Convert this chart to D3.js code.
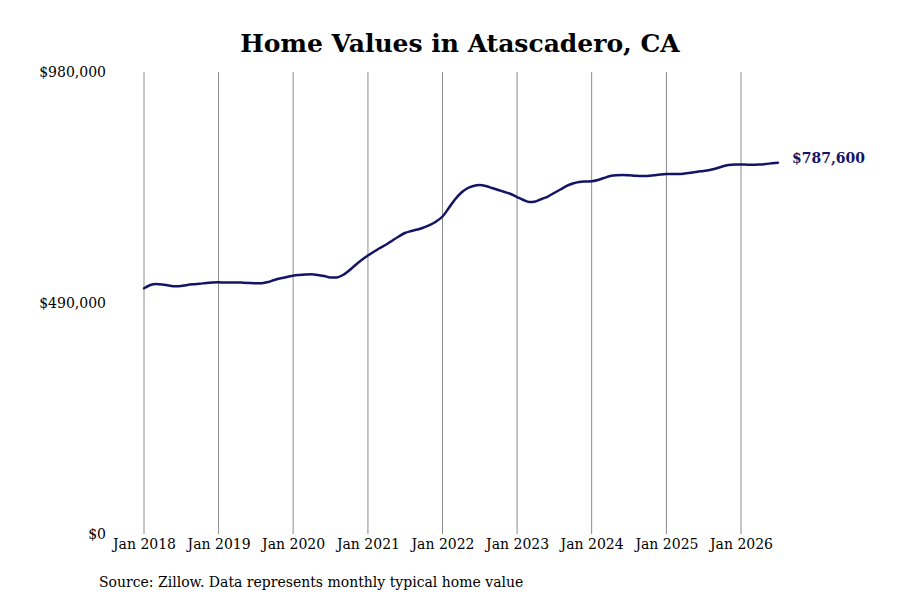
<!DOCTYPE html>
<html>
<head>
<meta charset="utf-8">
<script src="https://cdn.jsdelivr.net/npm/d3@7"></script>
<style>
  body { margin: 0; background: #fff; }
  svg { display: block; }
</style>
</head>
<body>
<svg id="chart" width="900" height="600"></svg>
<script>
// ---- data ----
const startMonth = "2018-01";
const homeValues = [
  521200, 528200, 530300, 529200, 527100, 525400, 526100, 528200, 529700, 530900, 532400, 533500,
  533900, 533500, 533500, 533700, 533100, 532400, 531800, 532000, 534500, 538800, 542400, 545100,
  547900, 549400, 550400, 551100, 549400, 547300, 544100, 544100, 549400, 558900, 570600, 581200,
  590800, 599200, 606700, 614100, 622600, 631100, 638500, 642700, 645900, 650200, 655500, 662900,
  673500, 691500, 708500, 723300, 732900, 738200, 740300, 738200, 733900, 729700, 725400, 721200,
  714800, 708500, 704200, 705300, 710600, 715900, 723300, 730800, 738200, 743500, 746700, 747700,
  748200, 750900, 755100, 759400, 761100, 761500, 760900, 760000, 759400, 759400, 760900, 762600,
  763600, 763600, 763600, 764700, 766200, 768500, 770000, 772100, 775300, 779500, 782700, 783800,
  783800, 783400, 783100, 783800, 784800, 786300, 787600
];
const xTickYears = [2018, 2019, 2020, 2021, 2022, 2023, 2024, 2025, 2026];
const yTickValues = [0, 490000, 980000];
const titleText = "Home Values in Atascadero, CA";
const sourceText = "Source: Zillow. Data represents monthly typical home value";

// ---- build ----
const parse = d3.timeParse("%Y-%m");
const start = parse(startMonth);
const series = homeValues.map((v, i) => ({ date: d3.timeMonth.offset(start, i), value: v }));

const svg = d3.select("#chart");
const serif = "'DejaVu Serif', serif";

const x = d3.scaleTime()
  .domain([new Date(2018, 0, 1), new Date(2026, 0, 1)])
  .range([144, 741]);
const y = d3.scaleLinear().domain([0, 980000]).range([534, 72]);

// title
svg.append("text")
  .attr("x", 460).attr("y", 52)
  .attr("text-anchor", "middle")
  .style("font-family", serif).style("font-weight", "bold").style("font-size", "25px")
  .attr("fill", "#000")
  .text(titleText);

// vertical gridlines
svg.append("g").selectAll("line")
  .data(xTickYears)
  .join("line")
  .attr("x1", d => x(new Date(d, 0, 1))).attr("x2", d => x(new Date(d, 0, 1)))
  .attr("y1", y(980000)).attr("y2", y(0))
  .attr("stroke", "#8c8c8c").attr("stroke-width", 1);

// x axis labels
const xAxis = d3.axisBottom(x)
  .tickValues(xTickYears.map(yr => new Date(yr, 0, 1)))
  .tickFormat(d3.timeFormat("Jan %Y"))
  .tickSize(0).tickPadding(5);
const gx = svg.append("g").attr("transform", `translate(0,${y(0)})`).call(xAxis);
gx.select(".domain").remove();
gx.selectAll("text").style("font-family", serif).style("font-size", "14px").attr("fill", "#000");

// y axis labels
const yAxis = d3.axisLeft(y)
  .tickValues(yTickValues)
  .tickFormat(d => "$" + d3.format(",")(d))
  .tickSize(0).tickPadding(38);
const gy = svg.append("g").attr("transform", `translate(144,0)`).call(yAxis);
gy.select(".domain").remove();
gy.selectAll("text").style("font-family", serif).style("font-size", "14px").attr("fill", "#000");

// line
const line = d3.line()
  .x(d => x(d.date))
  .y(d => y(d.value))
  .curve(d3.curveMonotoneX);
svg.append("path")
  .datum(series)
  .attr("d", line)
  .attr("fill", "none")
  .attr("stroke", "#141466")
  .attr("stroke-width", 2.5)
  .attr("stroke-linejoin", "round")
  .attr("stroke-linecap", "round");

// end label
const last = series[series.length - 1];
svg.append("text")
  .attr("x", x(last.date) + 14).attr("y", y(last.value) - 5)
  .attr("dy", "0.35em")
  .style("font-family", serif).style("font-weight", "bold").style("font-size", "14px")
  .attr("fill", "#141466")
  .text("$" + d3.format(",")(last.value));

// source
svg.append("text")
  .attr("x", 99).attr("y", 587)
  .style("font-family", serif).style("font-size", "14px")
  .attr("fill", "#000")
  .text(sourceText);
</script>
</body>
</html>
